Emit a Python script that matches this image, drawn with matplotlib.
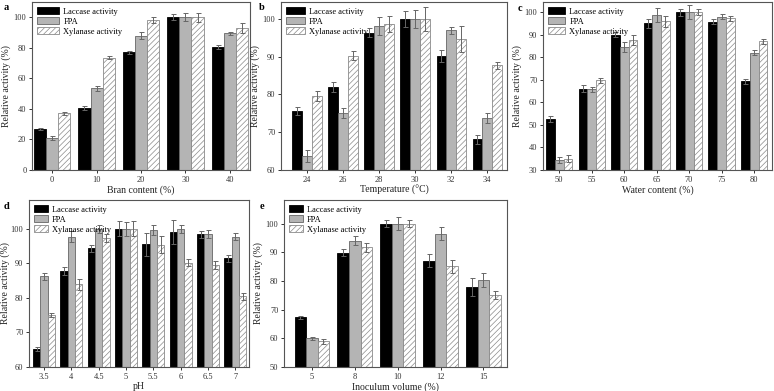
import matplotlib
matplotlib.use("Agg")
import matplotlib.pyplot as plt
import numpy as np

plt.rcParams['font.family'] = ['Liberation Serif', 'DejaVu Serif']
plt.rcParams['hatch.linewidth'] = 0.5
plt.rcParams['hatch.color'] = '#7a7a7a'

series_names = ["Laccase activity", "FPA", "Xylanase activity"]

# Panel a
a_cats = ["0", "10", "20", "30", "40"]
a_lac = [27, 40.5, 77, 100, 80.5]
a_fpa = [21, 53.5, 88, 100, 89.5]
a_xyl = [37, 73.5, 98, 100, 93]
a_lac_err = [0.8, 1.5, 0.8, 2.0, 1.5]
a_fpa_err = [1.5, 1.5, 2.5, 2.5, 1.0]
a_xyl_err = [1.2, 1.0, 2.0, 3.0, 3.0]

# Panel b
b_cats = ["24", "26", "28", "30", "32", "34"]
b_lac = [75.7, 82.0, 96.3, 100, 90.2, 68.1]
b_fpa = [63.6, 75.1, 98.1, 100, 97.0, 73.8]
b_xyl = [79.6, 90.3, 98.7, 100, 94.7, 87.7]
b_lac_err = [1.0, 1.4, 1.2, 2.0, 1.5, 1.2]
b_fpa_err = [1.6, 1.4, 2.4, 2.4, 1.0, 1.3]
b_xyl_err = [1.2, 1.1, 2.2, 3.2, 3.5, 1.0]

# Panel c
c_cats = ["50", "55", "60", "65", "70", "75", "80"]
c_lac = [52.6, 66.0, 90.0, 95.1, 100, 95.8, 69.3]
c_fpa = [34.5, 65.8, 84.5, 98.8, 100, 98.0, 82.0]
c_xyl = [35.0, 69.8, 87.7, 96.0, 100, 97.2, 87.0]
c_lac_err = [1.2, 1.5, 1.2, 2.0, 1.5, 1.2, 1.0]
c_fpa_err = [1.3, 1.2, 2.3, 3.2, 3.2, 1.0, 1.0]
c_xyl_err = [1.5, 1.2, 2.2, 2.4, 1.2, 1.2, 1.0]

# Panel d
d_cats = ["3.5", "4", "4.5", "5", "5.5", "6", "6.5", "7"]
d_lac = [65.1, 87.7, 94.4, 100, 95.5, 99.0, 98.4, 91.4]
d_fpa = [86.2, 97.7, 99.9, 100, 99.6, 99.9, 98.4, 97.7]
d_xyl = [75.1, 83.9, 97.3, 100, 95.4, 90.2, 89.4, 80.4]
d_lac_err = [0.6, 1.2, 1.0, 2.2, 3.3, 3.5, 1.0, 1.0]
d_fpa_err = [1.0, 1.5, 1.2, 2.0, 1.5, 1.2, 1.2, 1.0]
d_xyl_err = [0.6, 1.5, 1.2, 2.2, 2.4, 1.0, 1.2, 1.0]

# Panel e
e_cats = ["5", "8", "10", "12", "15"]
e_lac = [67.3, 89.9, 100, 87.1, 78.0]
e_fpa = [60.0, 94.1, 100, 96.5, 80.4]
e_xyl = [59.0, 91.8, 100, 85.1, 75.2]
e_lac_err = [0.5, 1.2, 1.2, 2.2, 3.2]
e_fpa_err = [0.6, 1.5, 2.3, 2.3, 2.5]
e_xyl_err = [0.8, 1.5, 1.2, 2.2, 1.4]

W, H = 774, 391
fig = plt.figure(figsize=(W / 100, H / 100), dpi=100)

def add_ax(l, r, t, b):
    return fig.add_axes([l / W, 1 - b / H, (r - l) / W, (b - t) / H])

spine_col = '#555555'
err_col = '#666666'
bw = 0.27

def panel(ax, cats, lac, fpa, xyl, le, fe, xe, ylim, yticks, xlabel, xlim, handlelen, ylpad=2):
    x = np.arange(len(cats))
    styles = [
        dict(color='black', edgecolor='black'),
        dict(color='#b4b4b4', edgecolor='#666666'),
        dict(color='white', edgecolor='#8a8a8a', hatch='//////'),
    ]
    vals = [lac, fpa, xyl]
    errs = [le, fe, xe]
    for i in range(3):
        ax.bar(x + (i - 1) * bw, vals[i], bw, yerr=errs[i], label=series_names[i],
               linewidth=0.6, error_kw=dict(ecolor=err_col, elinewidth=0.7, capsize=1.8, capthick=0.7),
               **styles[i])
    ax.set_xticks(x)
    ax.set_xticklabels(cats)
    ax.set_ylim(*ylim)
    ax.set_yticks(yticks)
    ax.set_xlim(*xlim)
    ax.tick_params(direction='out', length=2.5, width=0.7, labelsize=6, colors='#333333', pad=1.5)
    for s in ax.spines.values():
        s.set_color(spine_col)
        s.set_linewidth(0.8)
    ax.set_xlabel(xlabel, fontsize=7, labelpad=1, color='#222222')
    ax.set_ylabel("Relative activity (%)", fontsize=7, labelpad=ylpad, color='#222222')
    ax.legend(loc='upper left', frameon=False, fontsize=6, handlelength=handlelen, handleheight=0.9,
              labelspacing=0.2, borderaxespad=0.25, handletextpad=0.5)
    return ax

axa = add_ax(32, 250, 2, 170)
panel(axa, a_cats, a_lac, a_fpa, a_xyl, a_lac_err, a_fpa_err, a_xyl_err,
      (0, 110), [0, 20, 40, 60, 80, 100], "Bran content (%)", (-0.45, 4.45), 2.6)
fig.text(4 / W, 1 - 10 / H, "a", fontsize=7.5, fontweight='bold')

axb = add_ax(281, 507, 2, 170)
panel(axb, b_cats, b_lac, b_fpa, b_xyl, b_lac_err, b_fpa_err, b_xyl_err,
      (60, 104.5), [60, 70, 80, 90, 100], "Temperature (\u00b0C)", (-0.72, 5.55), 2.2)
fig.text(259 / W, 1 - 10 / H, "b", fontsize=7.5, fontweight='bold')

axc = add_ax(543, 772, 2, 170)
panel(axc, c_cats, c_lac, c_fpa, c_xyl, c_lac_err, c_fpa_err, c_xyl_err,
      (30, 104.5), [30, 40, 50, 60, 70, 80, 90, 100], "Water content (%)", (-0.5, 6.55), 2.0)
fig.text(518 / W, 1 - 11 / H, "c", fontsize=7.5, fontweight='bold')

axd = add_ax(29, 249, 200, 367)
panel(axd, d_cats, d_lac, d_fpa, d_xyl, d_lac_err, d_fpa_err, d_xyl_err,
      (60, 108.3), [60, 70, 80, 90, 100], "pH", (-0.55, 7.5), 1.6, ylpad=0.8)
fig.text(4 / W, 1 - 209 / H, "d", fontsize=7.5, fontweight='bold')

axe = add_ax(284, 507, 200, 367)
panel(axe, e_cats, e_lac, e_fpa, e_xyl, e_lac_err, e_fpa_err, e_xyl_err,
      (50, 108.3), [50, 60, 70, 80, 90, 100], "Inoculum volume (%)", (-0.65, 4.55), 1.6)
fig.text(260 / W, 1 - 209 / H, "e", fontsize=7.5, fontweight='bold')

fig.savefig("out.png", dpi=100)
